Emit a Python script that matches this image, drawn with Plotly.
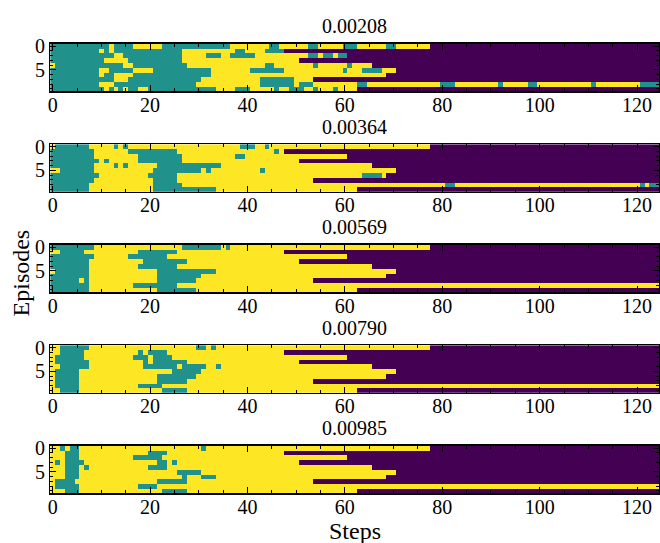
import plotly.graph_objects as go

titles = ["0.00208", "0.00364", "0.00569", "0.00790", "0.00985"]
episode_lengths = [78, 48, 61, 51, 66, 71, 69, 54, 125, 63]
n_steps = 125
x_ticks = [0, 20, 40, 60, 80, 100, 120]
y_ticks = [0, 5]

# run-length rows: T = teal action, Y = yellow action (rest of episode), P = padding
panel_1 = [
    "T12 Y1 T4 Y6 T14 Y8 T2 Y6 T2 Y5 T3 Y6 T2 Y7",
    "T10 Y1 T1 Y1 T14 Y11 T2 Y4 T4",
    "T13 Y2 T12 Y5 T3 Y2 T5 Y11 T2 Y1 T2 Y1 T2",
    "T11 Y5 T11 Y24",
    "Y1 T14 Y2 T11 Y16 T2 Y8 T1 Y6 T1 Y4",
    "T10 Y2 T5 Y4 T12 Y8 T7 Y12 T1 Y3 T4 Y3",
    "T10 Y1 T2 Y4 T16 Y36",
    "T13 Y3 T15 Y12 T7 Y4",
    "T10 Y3 T17 Y13 T7 Y1 T3 Y9 T2 Y15 T3 Y9 T1 Y5 T2 Y11 T1 Y9 T4",
    "T11 Y1 T1 Y1 T1 Y1 T2 Y2 T14 Y4 T3 Y5 T1 Y2 T3 Y2 T1 Y3 T1 Y4",
]
panel_2 = [
    "Y1 T7 Y5 T1 Y1 T1 Y23 T3 Y2 T1 Y33",
    "T9 Y7 T10 Y20 T1 Y1",
    "T9 Y9 T9 Y11 T2 Y21",
    "T10 Y1 T1 Y6 T9 Y24",
    "T9 Y4 T1 Y1 T1 Y6 T13 Y31",
    "Y2 T7 Y12 T10 Y1 T1 Y10 T1 Y27",
    "T10 Y10 T6 Y38 T4 Y1",
    "T9 Y12 T5 Y28",
    "T8 Y13 T6 Y54 T2 Y38 T1 Y1 T2",
    "T8 Y13 T13 Y29",
]
panel_3 = [
    "T9 Y18 T8 Y1 T1 Y41",
    "Y2 T5 Y11 T8 Y22",
    "T9 Y7 T8 Y37",
    "T8 Y11 T9 Y23",
    "T8 Y10 T8 Y40",
    "Y1 T7 Y14 T12 Y37",
    "T8 Y14 T9 Y38",
    "T6 Y1 T1 Y14 T8 Y24",
    "T8 Y9 T9 Y99",
    "T8 Y14 T8 Y33",
]
panel_4 = [
    "Y2 T6 Y22 T2 Y1 T1 Y44",
    "Y2 T5 Y11 T1 Y1 T4 Y24",
    "Y1 T6 Y10 T3 Y1 T4 Y36",
    "Y1 T7 Y11 T1 Y1 T7 Y23",
    "Y2 T6 Y11 T7 Y1 T5 Y2 T1 Y31",
    "Y1 T5 Y19 T6 Y40",
    "Y1 T5 Y16 T8 Y39",
    "Y1 T5 Y16 T6 Y26",
    "Y1 T5 Y12 T5 Y102",
    "Y2 T4 Y17 T5 Y35",
]
panel_5 = [
    "Y2 T1 Y1 T2 Y25 T1 Y46",
    "Y3 T3 Y14 T4 Y24",
    "Y3 T3 Y11 T6 Y38",
    "Y1 T1 Y1 T4 Y15 T2 Y1 T1 Y25",
    "Y3 T3 Y1 T1 Y12 T4 Y42",
    "Y3 T3 Y20 T5 Y40",
    "Y3 T3 Y21 T1 Y3 T3 Y35",
    "Y1 T4 Y17 T6 Y26",
    "Y1 T5 Y12 T4 Y103",
    "Y3 T3 Y17 T5 Y35",
]
panels = [panel_1, panel_2, panel_3, panel_4, panel_5]

CODE = {"P": 0, "T": 1, "Y": 2}


def decode(row, length):
    cells = []
    for tok in row.split():
        cells += [CODE[tok[0]]] * int(tok[1:])
    cells = cells[:length]
    cells += [2] * (length - len(cells))
    cells += [0] * (n_steps - length)
    return cells


W, H = 660, 543
left_px, right_px = 47.5, 660.0
top0, pitch, ph = 35.3, 102.2, 48.4
FONT = "Liberation Serif"
TICK_SIZE = 20

colorscale = [
    [0.0, "#440154"], [0.3333, "#440154"],
    [0.3333, "#21918c"], [0.6667, "#21918c"],
    [0.6667, "#fde725"], [1.0, "#fde725"],
]

fig = go.Figure()
annotations = []
xs = list(range(n_steps))
ys = list(range(len(episode_lengths)))
for i, (title, rows) in enumerate(zip(titles, panels)):
    z = [decode(r, L) for r, L in zip(rows, episode_lengths)]
    sfx = "" if i == 0 else str(i + 1)
    fig.add_trace(go.Heatmap(
        z=z, x=xs, y=ys, colorscale=colorscale, zmin=0, zmax=2,
        showscale=False, xaxis="x" + sfx, yaxis="y" + sfx, hoverinfo="skip",
    ))
    top = top0 + pitch * i
    bot = top + ph
    ydom = [1 - bot / H, 1 - top / H]
    axis_common = dict(
        showline=True, linecolor="black", linewidth=1.3, mirror="ticks",
        ticks="inside", tickcolor="black", tickwidth=1, showgrid=False,
        zeroline=False, tickfont=dict(family=FONT, size=TICK_SIZE, color="black"),
    )
    fig.layout["xaxis" + sfx] = dict(
        domain=[left_px / W, right_px / W], anchor="y" + sfx,
        range=[-0.5, n_steps - 0.5], tickvals=x_ticks, ticklen=6,
        ticklabelstandoff=-5,
        minor=dict(ticks="inside", dtick=5, tick0=0, ticklen=3, tickcolor="black"),
        **axis_common,
    )
    fig.layout["yaxis" + sfx] = dict(
        domain=ydom, anchor="x" + sfx,
        range=[len(episode_lengths) - 0.5, -0.5], tickvals=y_ticks, ticklen=6,
        minor=dict(ticks="inside", dtick=1, tick0=0, ticklen=3, tickcolor="black"),
        **axis_common,
    )
    annotations.append(dict(
        text=title, x=(left_px + right_px) / 2 / W, y=1 - (top - 18) / H,
        xref="paper", yref="paper", xanchor="center", yanchor="middle",
        showarrow=False, font=dict(family=FONT, size=TICK_SIZE, color="black"),
    ))

annotations.append(dict(
    text="Steps", x=(left_px + right_px) / 2 / W, y=1 - 531 / H,
    xref="paper", yref="paper", xanchor="center", yanchor="middle",
    showarrow=False, font=dict(family=FONT, size=24, color="black"),
))
annotations.append(dict(
    text="Episodes", x=18 / W, y=1 - 268 / H, textangle=-90,
    xref="paper", yref="paper", xanchor="center", yanchor="middle",
    showarrow=False, font=dict(family=FONT, size=24, color="black"),
))

fig.update_layout(
    width=W, height=H, margin=dict(l=0, r=0, t=0, b=0),
    paper_bgcolor="white", plot_bgcolor="white",
    annotations=annotations, showlegend=False,
)
fig.write_html(
    "out.html",
    config={"displayModeBar": False, "staticPlot": True},
    post_script="document.body.style.margin='0';document.body.style.overflow='hidden';",
)
